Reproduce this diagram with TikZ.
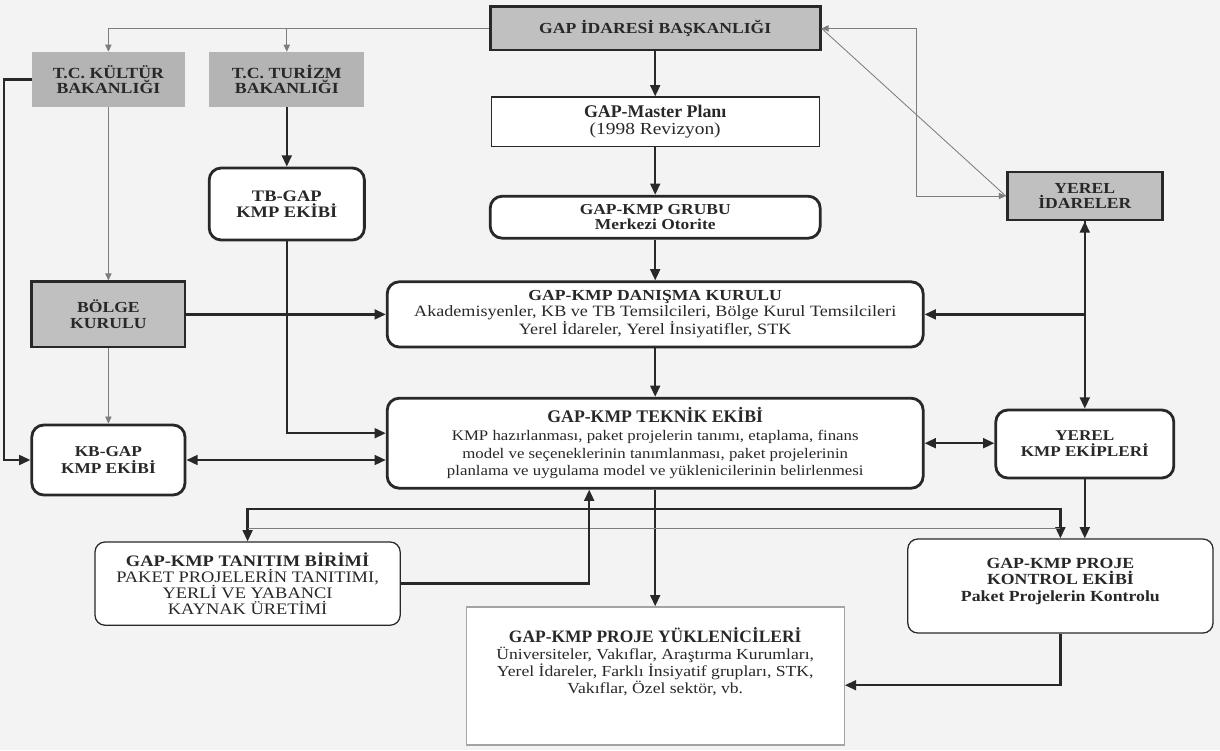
\documentclass[tikz,border=0pt]{standalone}
\usepackage{fontspec}
\setmainfont[FakeStretch=1.15]{Liberation Serif}
\newfontfamily\plainserif{Liberation Serif}
\usetikzlibrary{arrows.meta}
\definecolor{gapgray}{RGB}{192,192,192}
\definecolor{gapdark}{RGB}{180,180,180}
\definecolor{gapline}{RGB}{40,40,40}
\definecolor{gapthin}{RGB}{125,125,125}
\definecolor{gappaper}{RGB}{243,243,243}

\begin{document}
\begin{tikzpicture}[
    >={Triangle[length=8pt,width=7pt]},
    every node/.style={text=gapline, align=center, inner sep=0pt},
    plainbox/.style={draw=gapline, line width=0.9pt, fill=white},
    heavybox/.style={draw=gapline, line width=2pt, fill=white},
    roundbox/.style={heavybox, rounded corners=3mm},
    thinbox/.style={plainbox, rounded corners=2.5mm},
    graybox/.style={heavybox, fill=gapgray},
    flatbox/.style={fill=gapdark},
    heavy/.style={draw=gapline, line width=1.6pt},
    light/.style={draw=gapthin, line width=0.6pt, >={Triangle[length=5pt,width=4.5pt]}}
]
    % Paper
    \fill[gappaper] (0,0) rectangle (30.5,-18.75);

    % Ministries and top boxes
    \node[graybox, minimum width=8.25cm, minimum height=1.08cm, font=\fontsize{10.9}{12}\selectfont\bfseries] (idare) at (16.38,-0.71) {GAP İDARESİ BAŞKANLIĞI};
    \node[flatbox, minimum width=3.83cm, minimum height=1.38cm, font=\fontsize{11}{11}\selectfont\bfseries] (kultur) at (2.71,-1.99) {T.C. KÜLTÜR\\BAKANLIĞI};
    \node[flatbox, minimum width=3.88cm, minimum height=1.38cm, font=\fontsize{11}{11}\selectfont\bfseries] (turizm) at (7.17,-1.99) {T.C. TURİZM\\BAKANLIĞI};
    \node[plainbox, minimum width=8.2cm, minimum height=1.23cm, font=\fontsize{12}{12.5}\selectfont] (master) at (16.38,-3.04) {{\plainserif\fontsize{12.7}{13}\selectfont\bfseries GAP-Master Planı}\\(1998 Revizyon)};
    \node[roundbox, minimum width=8.25cm, minimum height=1.05cm, font=\fontsize{10.8}{10.5}\selectfont\bfseries] (grubu) at (16.38,-5.43) {GAP-KMP GRUBU\\Merkezi Otorite};
    \node[roundbox, minimum width=3.88cm, minimum height=1.8cm, font=\fontsize{11.4}{11}\selectfont\bfseries] (tbgap) at (7.17,-5.1) {TB-GAP\\KMP EKİBİ};
    \node[graybox, minimum width=3.88cm, minimum height=1.2cm, font=\fontsize{10.9}{11}\selectfont\bfseries] (yerel) at (27.12,-4.9) {YEREL\\İDARELER};

    % Middle row
    \node[graybox, minimum width=3.83cm, minimum height=1.63cm, font=\fontsize{10.9}{11}\selectfont\bfseries] (bolge) at (2.71,-7.86) {BÖLGE\\KURULU};
    \node[roundbox, minimum width=13.4cm, minimum height=1.63cm, font=\fontsize{11.2}{11.5}\selectfont] (danisma) at (16.38,-7.86) {{\fontsize{10.9}{11.5}\selectfont\bfseries GAP-KMP DANIŞMA KURULU}\\Akademisyenler, KB ve TB Temsilcileri, Bölge Kurul Temsilcileri\\Yerel İdareler, Yerel İnsiyatifler, STK};
    \node[roundbox, minimum width=3.83cm, minimum height=1.75cm, font=\fontsize{10.7}{11.5}\selectfont\bfseries] (kbgap) at (2.71,-11.5) {KB-GAP\\KMP EKİBİ};
    \node[roundbox, minimum width=13.4cm, minimum height=2.25cm, font=\fontsize{10.4}{12.6}\selectfont] (teknik) at (16.38,-11.08) {{\plainserif\fontsize{12.6}{14}\selectfont\bfseries GAP-KMP TEKNİK EKİBİ}\\KMP hazırlanması, paket projelerin tanımı, etaplama, finans\\model ve seçeneklerinin tanımlanması, paket projelerinin\\planlama ve uygulama model ve yüklenicilerinin belirlenmesi};
    \node[roundbox, minimum width=4.45cm, minimum height=1.7cm, font=\fontsize{10.6}{11.5}\selectfont\bfseries] (yerelkmp) at (27.12,-11.1) {YEREL\\KMP EKİPLERİ};

    % Bottom row
    \node[thinbox, minimum width=7.63cm, minimum height=2.08cm, font=\fontsize{11.4}{11.4}\selectfont] (tanitim) at (6.19,-14.59) {{\bfseries GAP-KMP TANITIM BİRİMİ}\\PAKET PROJELERİN TANITIMI,\\YERLİ VE YABANCI\\KAYNAK ÜRETİMİ};
    \node[draw=gapthin!70, line width=1pt, fill=white, minimum width=9.45cm, minimum height=3.45cm, font=\fontsize{10.9}{12.2}\selectfont] (yuklenici) at (16.38,-16.9) {{\plainserif\fontsize{12.4}{13}\selectfont\bfseries GAP-KMP PROJE YÜKLENİCİLERİ}\\Üniversiteler, Vakıflar, Araştırma Kurumları,\\Yerel İdareler, Farklı İnsiyatif grupları, STK,\\Vakıflar, Özel sektör, vb.\\[3.5mm]\mbox{}};
    \node[thinbox, minimum width=7.63cm, minimum height=2.35cm, font=\fontsize{11}{11.7}\selectfont\bfseries] (kontrol) at (26.51,-14.65) {GAP-KMP PROJE\\KONTROL EKİBİ\\Paket Projelerin Kontrolu\\[-1mm]\mbox{}};

    % Links from the top
    \draw[light, ->] (idare.west) -| (kultur);
    \draw[light, ->] (turizm |- idare.west) -- (turizm);
    \draw[light, <->] (idare.east) -- ([xshift=2.38cm]idare.east) |- (yerel.west);
    \draw[light] (idare.east) -- (yerel.west);
    \draw[heavy, ->] (idare) -- (master);
    \draw[heavy, ->] (master) -- (grubu);
    \draw[heavy, ->] (grubu) -- (danisma);
    \draw[heavy, ->] (danisma) -- (teknik);
    \draw[heavy, ->] (turizm) -- (tbgap);

    % Left side
    \draw[light, ->] (kultur) -- (bolge);
    \draw[light, ->] (bolge) -- (kbgap);
    \draw[heavy, ->] (kultur.west) -- ++(-0.68,0) |- (kbgap.west);
    \draw[heavy, ->] (bolge) -- (danisma);
    \draw[heavy, ->] (tbgap) |- ([yshift=0.25cm]teknik.west);
    \draw[heavy, <->] (kbgap) -- (kbgap -| teknik.west);

    % Right side
    \draw[heavy, ->] (yerel.south) |- (danisma.east);
    \draw[heavy, <->] (yerel) -- (yerelkmp);
    \draw[heavy, <->] (teknik.east) -- (teknik.east -| yerelkmp.west);
    \draw[heavy, ->] (yerelkmp) -- (yerelkmp |- kontrol.north);

    % Below the technical team
    \draw[heavy, ->] ([yshift=-0.48cm]teknik.south) -| (tanitim);
    \draw[heavy, ->] ([yshift=-0.48cm]teknik.south) -| (kontrol);
    \draw[heavy, ->] (teknik) -- (yuklenici);
    \draw[light] ([yshift=0.32cm]tanitim.north) -- ([yshift=0.32cm]tanitim.north -| kontrol.north);
    \draw[heavy, ->] (tanitim.east) -| ([xshift=-1.65cm]teknik.south);
    \draw[heavy, ->] (kontrol.south) |- ([yshift=-0.23cm]yuklenici.east);
\end{tikzpicture}
\end{document}
